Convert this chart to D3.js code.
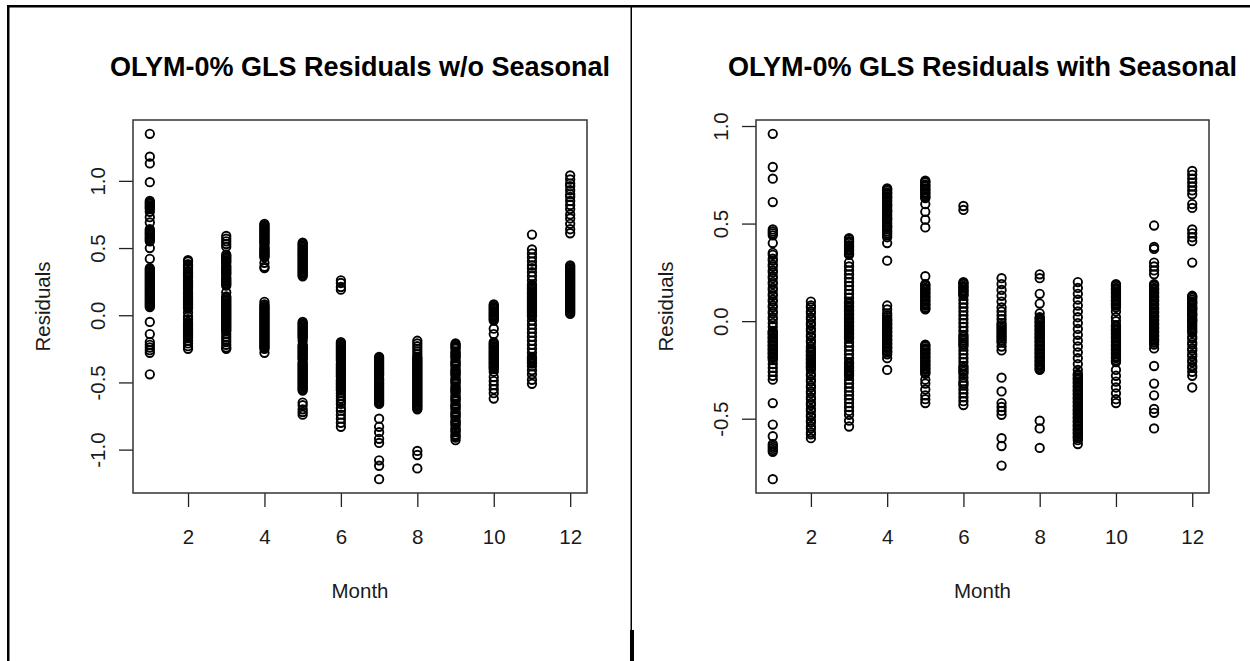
<!DOCTYPE html>
<html>
<head>
<meta charset="utf-8">
<script src="https://cdn.jsdelivr.net/npm/d3@7"></script>
<style>
  html, body { margin: 0; padding: 0; background: #fff; }
  svg { display: block; }
  text { font-family: "Liberation Sans", Arial, sans-serif; }
</style>
</head>
<body>
<svg id="chart" width="1250" height="661"></svg>
<script>
// Months on the x axis and tick labels
const months = [1, 2, 3, 4, 5, 6, 7, 8, 9, 10, 11, 12];
const monthTicks = [2, 4, 6, 8, 10, 12];
const residTicksNoSeas = [-1.0, -0.5, 0.0, 0.5, 1.0];
const residTicksSeas = [-0.5, 0.0, 0.5, 1.0];

// GLS residuals without the seasonal term, one array per month
const noSeasJan = [1.35, 1.18, 1.13, 0.99, 0.85, 0.84, 0.83, 0.82, 0.81, 0.80, 0.79, 0.77, 0.73, 0.69, 0.64, 0.63, 0.62, 0.61, 0.60, 0.59, 0.58, 0.57, 0.56, 0.55, 0.50, 0.42, 0.35, 0.34, 0.33, 0.32, 0.31, 0.30, 0.29, 0.28, 0.27, 0.26, 0.25, 0.24, 0.23, 0.22, 0.21, 0.20, 0.19, 0.18, 0.17, 0.16, 0.15, 0.14, 0.13, 0.12, 0.11, 0.10, 0.09, 0.08, 0.07, 0.06, -0.05, -0.14, -0.20, -0.22, -0.24, -0.26, -0.28, -0.44];
const noSeasFeb = [0.41, 0.40, 0.38, 0.37, 0.36, 0.35, 0.33, 0.32, 0.31, 0.30, 0.29, 0.28, 0.26, 0.25, 0.24, 0.23, 0.22, 0.21, 0.20, 0.18, 0.17, 0.16, 0.15, 0.14, 0.13, 0.12, 0.11, 0.10, 0.09, 0.08, 0.07, 0.06, 0.05, 0.02, -0.01, -0.03, -0.05, -0.06, -0.07, -0.08, -0.09, -0.10, -0.11, -0.12, -0.13, -0.14, -0.15, -0.16, -0.17, -0.19, -0.21, -0.23, -0.25];
const noSeasMar = [0.59, 0.57, 0.55, 0.53, 0.51, 0.45, 0.44, 0.43, 0.42, 0.41, 0.40, 0.39, 0.37, 0.36, 0.35, 0.34, 0.33, 0.32, 0.31, 0.30, 0.28, 0.27, 0.26, 0.25, 0.24, 0.23, 0.22, 0.17, 0.14, 0.13, 0.12, 0.11, 0.10, 0.09, 0.08, 0.07, 0.06, 0.05, 0.04, 0.03, 0.02, 0.01, 0.00, -0.01, -0.02, -0.03, -0.04, -0.05, -0.06, -0.07, -0.08, -0.09, -0.10, -0.11, -0.12, -0.14, -0.16, -0.18, -0.20, -0.22, -0.24, -0.25];
const noSeasApr = [0.68, 0.67, 0.66, 0.65, 0.64, 0.63, 0.62, 0.61, 0.60, 0.59, 0.58, 0.57, 0.56, 0.55, 0.54, 0.53, 0.51, 0.50, 0.49, 0.48, 0.47, 0.46, 0.45, 0.44, 0.43, 0.39, 0.36, 0.35, 0.10, 0.08, 0.07, 0.06, 0.05, 0.04, 0.03, 0.02, 0.01, 0.00, -0.01, -0.02, -0.03, -0.04, -0.05, -0.06, -0.07, -0.08, -0.09, -0.10, -0.11, -0.12, -0.13, -0.14, -0.15, -0.16, -0.17, -0.18, -0.19, -0.20, -0.21, -0.22, -0.23, -0.24, -0.25, -0.28];
const noSeasMay = [0.54, 0.53, 0.52, 0.51, 0.50, 0.49, 0.48, 0.47, 0.46, 0.45, 0.44, 0.43, 0.42, 0.41, 0.40, 0.39, 0.38, 0.37, 0.36, 0.35, 0.34, 0.33, 0.32, 0.31, 0.30, 0.29, -0.05, -0.06, -0.07, -0.08, -0.09, -0.10, -0.11, -0.12, -0.13, -0.14, -0.15, -0.16, -0.17, -0.19, -0.22, -0.23, -0.24, -0.25, -0.26, -0.27, -0.28, -0.29, -0.30, -0.31, -0.32, -0.33, -0.35, -0.36, -0.37, -0.38, -0.39, -0.40, -0.41, -0.42, -0.43, -0.44, -0.45, -0.46, -0.47, -0.48, -0.49, -0.50, -0.51, -0.52, -0.53, -0.54, -0.55, -0.56, -0.65, -0.67, -0.70, -0.72, -0.74];
const noSeasJun = [0.26, 0.24, 0.21, 0.19, -0.20, -0.21, -0.22, -0.23, -0.24, -0.25, -0.26, -0.27, -0.28, -0.29, -0.30, -0.31, -0.32, -0.33, -0.34, -0.36, -0.37, -0.38, -0.39, -0.40, -0.41, -0.42, -0.43, -0.44, -0.45, -0.46, -0.48, -0.49, -0.50, -0.51, -0.52, -0.53, -0.54, -0.55, -0.56, -0.58, -0.60, -0.62, -0.64, -0.66, -0.69, -0.71, -0.74, -0.77, -0.80, -0.83];
const noSeasJul = [-0.31, -0.32, -0.33, -0.34, -0.35, -0.36, -0.37, -0.38, -0.39, -0.40, -0.41, -0.42, -0.43, -0.44, -0.45, -0.47, -0.48, -0.49, -0.50, -0.51, -0.52, -0.53, -0.54, -0.55, -0.56, -0.57, -0.58, -0.59, -0.60, -0.61, -0.62, -0.63, -0.64, -0.65, -0.66, -0.77, -0.83, -0.87, -0.92, -0.95, -1.08, -1.12, -1.22];
const noSeasAug = [-0.19, -0.21, -0.23, -0.25, -0.27, -0.29, -0.31, -0.32, -0.33, -0.34, -0.35, -0.36, -0.37, -0.38, -0.39, -0.40, -0.41, -0.42, -0.43, -0.44, -0.45, -0.46, -0.47, -0.48, -0.49, -0.50, -0.51, -0.52, -0.53, -0.54, -0.55, -0.56, -0.57, -0.58, -0.59, -0.60, -0.61, -0.62, -0.63, -0.64, -0.65, -0.66, -0.67, -0.68, -0.69, -0.70, -1.01, -1.04, -1.14];
const noSeasSep = [-0.21, -0.22, -0.23, -0.24, -0.25, -0.27, -0.28, -0.29, -0.30, -0.31, -0.32, -0.34, -0.35, -0.36, -0.37, -0.38, -0.40, -0.41, -0.42, -0.43, -0.44, -0.45, -0.47, -0.48, -0.49, -0.50, -0.51, -0.53, -0.54, -0.55, -0.56, -0.57, -0.58, -0.60, -0.61, -0.62, -0.63, -0.64, -0.66, -0.67, -0.68, -0.69, -0.70, -0.72, -0.73, -0.74, -0.75, -0.76, -0.78, -0.79, -0.80, -0.81, -0.82, -0.84, -0.85, -0.86, -0.87, -0.89, -0.90, -0.91, -0.93];
const noSeasOct = [0.08, 0.07, 0.06, 0.05, 0.04, 0.03, 0.02, 0.01, 0.00, -0.01, -0.02, -0.03, -0.04, -0.10, -0.14, -0.20, -0.21, -0.22, -0.23, -0.24, -0.25, -0.26, -0.27, -0.28, -0.29, -0.30, -0.31, -0.32, -0.33, -0.34, -0.35, -0.36, -0.37, -0.38, -0.39, -0.40, -0.42, -0.46, -0.49, -0.52, -0.55, -0.58, -0.62];
const noSeasNov = [0.60, 0.49, 0.46, 0.43, 0.40, 0.37, 0.35, 0.32, 0.29, 0.26, 0.23, 0.22, 0.21, 0.20, 0.19, 0.18, 0.17, 0.16, 0.15, 0.14, 0.13, 0.12, 0.11, 0.10, 0.09, 0.08, 0.07, 0.06, 0.05, 0.04, 0.03, 0.02, 0.01, 0.00, -0.01, -0.04, -0.07, -0.10, -0.13, -0.16, -0.19, -0.22, -0.25, -0.28, -0.31, -0.32, -0.33, -0.34, -0.35, -0.36, -0.38, -0.41, -0.44, -0.48, -0.51];
const noSeasDec = [1.04, 1.01, 0.98, 0.96, 0.93, 0.90, 0.88, 0.85, 0.82, 0.79, 0.75, 0.72, 0.68, 0.64, 0.61, 0.37, 0.36, 0.35, 0.34, 0.33, 0.32, 0.31, 0.30, 0.29, 0.28, 0.27, 0.26, 0.25, 0.24, 0.23, 0.22, 0.21, 0.20, 0.19, 0.18, 0.17, 0.16, 0.15, 0.14, 0.13, 0.12, 0.11, 0.10, 0.09, 0.08, 0.07, 0.06, 0.05, 0.04, 0.03, 0.02, 0.01];

// GLS residuals with the seasonal term, one array per month
const seasJan = [0.96, 0.79, 0.73, 0.61, 0.47, 0.46, 0.45, 0.44, 0.40, 0.35, 0.34, 0.32, 0.31, 0.29, 0.28, 0.26, 0.25, 0.23, 0.22, 0.20, 0.19, 0.17, 0.16, 0.14, 0.13, 0.11, 0.10, 0.08, 0.07, 0.05, 0.04, 0.02, 0.01, -0.01, -0.03, -0.05, -0.055, -0.06, -0.065, -0.07, -0.08, -0.085, -0.09, -0.10, -0.105, -0.11, -0.12, -0.125, -0.13, -0.14, -0.145, -0.15, -0.16, -0.165, -0.17, -0.18, -0.185, -0.19, -0.20, -0.22, -0.24, -0.26, -0.28, -0.30, -0.42, -0.53, -0.59, -0.63, -0.64, -0.65, -0.66, -0.67, -0.81];
const seasFeb = [0.10, 0.08, 0.07, 0.05, 0.04, 0.02, 0.01, -0.01, -0.02, -0.04, -0.05, -0.07, -0.08, -0.10, -0.11, -0.13, -0.14, -0.15, -0.155, -0.16, -0.17, -0.175, -0.18, -0.19, -0.195, -0.20, -0.21, -0.215, -0.22, -0.23, -0.235, -0.24, -0.25, -0.27, -0.28, -0.30, -0.31, -0.33, -0.34, -0.36, -0.37, -0.39, -0.40, -0.42, -0.43, -0.45, -0.46, -0.48, -0.49, -0.51, -0.52, -0.54, -0.55, -0.57, -0.58, -0.60];
const seasMar = [0.425, 0.42, 0.41, 0.405, 0.40, 0.39, 0.385, 0.38, 0.37, 0.365, 0.36, 0.35, 0.345, 0.34, 0.30, 0.28, 0.26, 0.24, 0.22, 0.20, 0.18, 0.16, 0.14, 0.12, 0.10, 0.095, 0.09, 0.08, 0.075, 0.07, 0.06, 0.055, 0.05, 0.04, 0.035, 0.03, 0.02, 0.015, 0.01, 0.00, -0.005, -0.01, -0.02, -0.025, -0.03, -0.04, -0.045, -0.05, -0.06, -0.065, -0.07, -0.08, -0.085, -0.09, -0.11, -0.13, -0.15, -0.17, -0.19, -0.21, -0.215, -0.22, -0.23, -0.235, -0.24, -0.25, -0.255, -0.26, -0.27, -0.275, -0.28, -0.30, -0.32, -0.34, -0.36, -0.38, -0.40, -0.42, -0.44, -0.46, -0.48, -0.51, -0.54];
const seasApr = [0.68, 0.675, 0.67, 0.66, 0.655, 0.65, 0.64, 0.635, 0.63, 0.62, 0.61, 0.60, 0.595, 0.59, 0.58, 0.57, 0.565, 0.56, 0.55, 0.54, 0.53, 0.525, 0.52, 0.51, 0.50, 0.49, 0.485, 0.48, 0.47, 0.46, 0.45, 0.44, 0.43, 0.40, 0.31, 0.08, 0.06, 0.04, 0.03, 0.02, 0.01, 0.005, 0.00, -0.01, -0.015, -0.02, -0.03, -0.035, -0.04, -0.05, -0.055, -0.06, -0.07, -0.075, -0.08, -0.09, -0.095, -0.10, -0.11, -0.115, -0.12, -0.13, -0.135, -0.14, -0.15, -0.155, -0.16, -0.17, -0.19, -0.25];
const seasMay = [0.72, 0.715, 0.71, 0.70, 0.695, 0.69, 0.68, 0.675, 0.67, 0.66, 0.655, 0.65, 0.64, 0.635, 0.63, 0.60, 0.56, 0.52, 0.48, 0.23, 0.19, 0.185, 0.18, 0.17, 0.165, 0.16, 0.15, 0.145, 0.14, 0.13, 0.125, 0.12, 0.11, 0.105, 0.10, 0.09, 0.085, 0.08, 0.07, 0.065, 0.06, -0.12, -0.125, -0.13, -0.14, -0.145, -0.15, -0.16, -0.165, -0.17, -0.18, -0.185, -0.19, -0.20, -0.205, -0.21, -0.22, -0.225, -0.23, -0.24, -0.245, -0.25, -0.26, -0.265, -0.27, -0.30, -0.32, -0.35, -0.38, -0.40, -0.42];
const seasJun = [0.59, 0.57, 0.20, 0.195, 0.19, 0.18, 0.175, 0.17, 0.16, 0.155, 0.15, 0.14, 0.135, 0.13, 0.11, 0.09, 0.07, 0.05, 0.03, 0.01, -0.01, -0.03, -0.05, -0.07, -0.08, -0.09, -0.10, -0.11, -0.12, -0.13, -0.15, -0.17, -0.19, -0.21, -0.23, -0.24, -0.25, -0.26, -0.27, -0.29, -0.31, -0.32, -0.33, -0.35, -0.37, -0.39, -0.41, -0.43];
const seasJul = [0.22, 0.19, 0.16, 0.13, 0.10, 0.07, 0.05, 0.03, 0.01, -0.01, -0.02, -0.03, -0.04, -0.05, -0.06, -0.07, -0.08, -0.09, -0.10, -0.11, -0.13, -0.15, -0.29, -0.36, -0.42, -0.44, -0.46, -0.48, -0.60, -0.64, -0.74];
const seasAug = [0.24, 0.22, 0.14, 0.09, 0.04, 0.02, 0.015, 0.01, 0.00, -0.005, -0.01, -0.02, -0.025, -0.03, -0.04, -0.045, -0.05, -0.06, -0.065, -0.07, -0.08, -0.085, -0.09, -0.10, -0.105, -0.11, -0.12, -0.125, -0.13, -0.14, -0.145, -0.15, -0.16, -0.165, -0.17, -0.18, -0.185, -0.19, -0.20, -0.205, -0.21, -0.22, -0.225, -0.23, -0.24, -0.245, -0.25, -0.51, -0.55, -0.65];
const seasSep = [0.20, 0.17, 0.14, 0.11, 0.08, 0.05, 0.02, -0.01, -0.04, -0.07, -0.10, -0.13, -0.16, -0.19, -0.22, -0.25, -0.27, -0.275, -0.28, -0.29, -0.295, -0.30, -0.31, -0.315, -0.32, -0.33, -0.335, -0.34, -0.35, -0.355, -0.36, -0.37, -0.375, -0.38, -0.39, -0.395, -0.40, -0.41, -0.415, -0.42, -0.43, -0.435, -0.44, -0.45, -0.455, -0.46, -0.47, -0.475, -0.48, -0.49, -0.495, -0.50, -0.51, -0.515, -0.52, -0.53, -0.535, -0.54, -0.55, -0.555, -0.56, -0.57, -0.575, -0.58, -0.59, -0.595, -0.60, -0.61, -0.63];
const seasOct = [0.19, 0.185, 0.18, 0.17, 0.165, 0.16, 0.15, 0.145, 0.14, 0.13, 0.125, 0.12, 0.11, 0.105, 0.10, 0.09, 0.085, 0.08, 0.07, 0.05, 0.02, 0.00, -0.02, -0.025, -0.03, -0.04, -0.045, -0.05, -0.06, -0.065, -0.07, -0.08, -0.085, -0.09, -0.10, -0.105, -0.11, -0.12, -0.125, -0.13, -0.14, -0.145, -0.15, -0.16, -0.165, -0.17, -0.18, -0.185, -0.19, -0.20, -0.205, -0.21, -0.25, -0.28, -0.31, -0.34, -0.37, -0.40, -0.42];
const seasNov = [0.49, 0.38, 0.37, 0.30, 0.28, 0.26, 0.24, 0.19, 0.185, 0.18, 0.17, 0.165, 0.16, 0.15, 0.145, 0.14, 0.13, 0.125, 0.12, 0.11, 0.105, 0.10, 0.09, 0.085, 0.08, 0.07, 0.065, 0.06, 0.05, 0.045, 0.04, 0.03, 0.025, 0.02, 0.01, 0.005, 0.00, -0.01, -0.015, -0.02, -0.03, -0.035, -0.04, -0.05, -0.055, -0.06, -0.07, -0.075, -0.08, -0.09, -0.095, -0.10, -0.11, -0.12, -0.14, -0.23, -0.32, -0.38, -0.45, -0.47, -0.55];
const seasDec = [0.77, 0.75, 0.73, 0.71, 0.69, 0.67, 0.65, 0.60, 0.58, 0.47, 0.45, 0.43, 0.41, 0.30, 0.13, 0.125, 0.12, 0.11, 0.10, 0.095, 0.09, 0.08, 0.07, 0.065, 0.06, 0.05, 0.04, 0.035, 0.03, 0.02, 0.01, 0.005, 0.00, -0.01, -0.02, -0.03, -0.04, -0.05, -0.06, -0.08, -0.09, -0.11, -0.12, -0.14, -0.15, -0.17, -0.18, -0.20, -0.21, -0.23, -0.24, -0.26, -0.28, -0.34];

const noSeasByMonth = [noSeasJan, noSeasFeb, noSeasMar, noSeasApr, noSeasMay, noSeasJun,
                       noSeasJul, noSeasAug, noSeasSep, noSeasOct, noSeasNov, noSeasDec];
const seasByMonth = [seasJan, seasFeb, seasMar, seasApr, seasMay, seasJun,
                     seasJul, seasAug, seasSep, seasOct, seasNov, seasDec];

const svg = d3.select("#chart");
svg.append("rect").attr("width", 1250).attr("height", 661).attr("fill", "#fff");

// Table cell borders around the two figures
const frame = svg.append("g").attr("fill", "#000");
frame.append("rect").attr("x", 7).attr("y", 5).attr("width", 1243).attr("height", 2.5);
frame.append("rect").attr("x", 7).attr("y", 5).attr("width", 2.5).attr("height", 656);
frame.append("rect").attr("x", 630.5).attr("y", 5).attr("width", 1.5).attr("height", 656);
frame.append("rect").attr("x", 630).attr("y", 630).attr("width", 4).attr("height", 31);

const fmt = v => v.toFixed(1);

// R-style scatter panel: 4% padding on both axes, boxed plot region
function panel(box, title, byMonth, yTicks) {
  const points = [];
  byMonth.forEach((vals, i) => vals.forEach(v => points.push({ m: months[i], v })));

  const mExt = d3.extent(months);
  const mPad = (mExt[1] - mExt[0]) * 0.04;
  const x = d3.scaleLinear().domain([mExt[0] - mPad, mExt[1] + mPad]).range([box.x0, box.x1]);

  const vExt = d3.extent(points, d => d.v);
  const vPad = (vExt[1] - vExt[0]) * 0.04;
  const y = d3.scaleLinear().domain([vExt[0] - vPad, vExt[1] + vPad]).range([box.y1, box.y0]);

  const g = svg.append("g");

  // points
  g.append("g")
    .selectAll("circle")
    .data(points)
    .join("circle")
    .attr("cx", d => x(d.m))
    .attr("cy", d => y(d.v))
    .attr("r", 4.2)
    .attr("fill", "none")
    .attr("stroke", "#000")
    .attr("stroke-width", 1.9);

  // x axis
  const xa = g.append("g")
    .attr("transform", `translate(0,${box.y1})`)
    .call(d3.axisBottom(x).tickValues(monthTicks).tickSize(14).tickFormat(d3.format("d")));
  xa.select(".domain").remove();
  xa.selectAll(".tick line").attr("stroke", "#222").attr("stroke-width", 1.3);
  xa.selectAll(".tick text")
    .attr("y", 51).attr("dy", null)
    .attr("fill", "#1a1a1a")
    .style("font-size", "20.5px");

  // y axis
  const ya = g.append("g")
    .attr("transform", `translate(${box.x0},0)`)
    .call(d3.axisLeft(y).tickValues(yTicks).tickSize(14).tickFormat(fmt));
  ya.select(".domain").remove();
  ya.selectAll(".tick line").attr("stroke", "#222").attr("stroke-width", 1.3);
  ya.selectAll(".tick text")
    .attr("x", null).attr("dy", null)
    .attr("transform", "translate(-28,0) rotate(-90)")
    .attr("text-anchor", "middle")
    .attr("fill", "#1a1a1a")
    .style("font-size", "20.5px");

  // plot box
  g.append("rect")
    .attr("x", box.x0).attr("y", box.y0)
    .attr("width", box.x1 - box.x0).attr("height", box.y1 - box.y0)
    .attr("fill", "none").attr("stroke", "#333").attr("stroke-width", 1.5);

  const cx = (box.x0 + box.x1) / 2;
  const cy = (box.y0 + box.y1) / 2;

  // title and axis labels
  g.append("text")
    .attr("x", cx).attr("y", 76)
    .attr("text-anchor", "middle")
    .style("font-size", "27px").style("font-weight", "bold")
    .attr("fill", "#000")
    .text(title);

  g.append("text")
    .attr("x", cx).attr("y", box.y1 + 105)
    .attr("text-anchor", "middle")
    .style("font-size", "20.5px")
    .attr("fill", "#1a1a1a")
    .text("Month");

  g.append("text")
    .attr("transform", `translate(${box.x0 - 83},${cy}) rotate(-90)`)
    .attr("text-anchor", "middle")
    .style("font-size", "20.5px")
    .attr("fill", "#1a1a1a")
    .text("Residuals");
}

panel({ x0: 133, x1: 587, y0: 120, y1: 493 },
      "OLYM-0% GLS Residuals w/o Seasonal", noSeasByMonth, residTicksNoSeas);
panel({ x0: 756, x1: 1209, y0: 120, y1: 493 },
      "OLYM-0% GLS Residuals with Seasonal", seasByMonth, residTicksSeas);
</script>
</body>
</html>
